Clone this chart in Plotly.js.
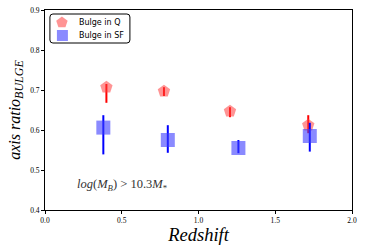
<!DOCTYPE html>
<html><head><meta charset="utf-8">
<script src="https://cdn.plot.ly/plotly-3.0.1.min.js"></script>
<style>body{margin:0;padding:0;background:#fff}#c{width:365px;height:252px}</style>
</head><body><div id="c"></div>
<script>
const qX = [0.40, 0.775, 1.205, 1.715];
const qY = [0.707, 0.697, 0.647, 0.612];
const qErrPlus = [0.008, 0.010, 0.010, 0.025];
const qErrMinus = [0.039, 0.012, 0.015, 0.020];
const sfX = [0.38, 0.80, 1.26, 1.725];
const sfY = [0.606, 0.575, 0.555, 0.585];
const sfErrPlus = [0.031, 0.037, 0.020, 0.033];
const sfErrMinus = [0.067, 0.032, 0.013, 0.039];
const xTicks = [0.0, 0.5, 1.0, 1.5, 2.0];
const yTicks = [0.4, 0.5, 0.6, 0.7, 0.8, 0.9];
const seriesNames = ['Bulge in Q', 'Bulge in SF'];

const serif = "Liberation Serif, DejaVu Serif, serif";
const qFill = 'rgba(255,60,60,0.55)';
const sfFill = 'rgba(60,60,255,0.6)';
const traces = [
  {x: qX, y: qY, type: 'scatter', mode: 'markers', name: seriesNames[0],
   marker: {symbol: 'pentagon', size: 13, color: qFill, line: {width: 0}},
   error_y: {type: 'data', symmetric: false, array: qErrPlus, arrayminus: qErrMinus, color: '#ff0000', thickness: 2, width: 0}},
  {x: sfX, y: sfY, type: 'scatter', mode: 'markers', name: seriesNames[1],
   marker: {symbol: 'square', size: 14, color: sfFill, line: {width: 0}},
   error_y: {type: 'data', symmetric: false, array: sfErrPlus, arrayminus: sfErrMinus, color: '#0000ff', thickness: 2, width: 0}}
];

// custom compact legend (pixel-sized shapes anchored in paper coords)
const lgX = 0.016, lgY = 0.98;
function pent(cx, cy, r) {
  let p = '';
  for (let i = 0; i < 5; i++) {
    const a = Math.PI / 2 + i * 2 * Math.PI / 5;
    p += (i ? ' L ' : 'M ') + (cx + r * Math.cos(a)).toFixed(2) + ',' + (cy + r * Math.sin(a)).toFixed(2);
  }
  return p + ' Z';
}
const shapes = [
  {type: 'path', xref: 'paper', yref: 'paper', xsizemode: 'pixel', ysizemode: 'pixel', xanchor: lgX, yanchor: lgY,
   path: 'M 3,0 L 77,0 Q 80,0 80,-3 L 80,-26 Q 80,-29 77,-29 L 3,-29 Q 0,-29 0,-26 L 0,-3 Q 0,0 3,0 Z',
   line: {color: '#000', width: 1}, fillcolor: '#fff'},
  {type: 'path', xref: 'paper', yref: 'paper', xsizemode: 'pixel', ysizemode: 'pixel', xanchor: lgX, yanchor: lgY,
   path: pent(12, -8.5, 6), line: {width: 0}, fillcolor: qFill},
  {type: 'path', xref: 'paper', yref: 'paper', xsizemode: 'pixel', ysizemode: 'pixel', xanchor: lgX, yanchor: lgY,
   path: 'M 7,-16 L 18,-16 L 18,-27 L 7,-27 Z', line: {width: 0}, fillcolor: sfFill}
];

const layout = {
  width: 365, height: 252,
  margin: {l: 45, r: 13, t: 10, b: 42},
  paper_bgcolor: '#fff', plot_bgcolor: '#fff',
  showlegend: false,
  shapes: shapes,
  xaxis: {range: [0, 2], tickvals: xTicks, ticktext: xTicks.map(v => v.toFixed(1)),
          showgrid: false, zeroline: false, showline: true, mirror: true, linecolor: '#000', linewidth: 1,
          ticks: 'outside', ticklen: 3, tickcolor: '#000', tickfont: {family: serif, size: 7.5, color: '#000'},
          title: {text: '<i>Redshift</i>', font: {family: serif, size: 18.5, color: '#000'}, standoff: 3}},
  yaxis: {range: [0.4, 0.9], tickvals: yTicks, ticktext: yTicks.map(v => v.toFixed(1)),
          showgrid: false, zeroline: false, showline: true, mirror: true, linecolor: '#000', linewidth: 1,
          ticks: 'outside', ticklen: 3, tickcolor: '#000', tickfont: {family: serif, size: 7.5, color: '#000'},
          title: {text: '<i>axis ratio</i><sub><i><span style="font-size:12px">BULGE</span></i></sub>', font: {family: serif, size: 16, color: '#000'}, standoff: 5}},
  annotations: [
    {x: 0.195, y: 0.4625, xref: 'x', yref: 'y', xanchor: 'left', yanchor: 'middle', showarrow: false,
     text: '<i>log</i>(<i>M<sub>B</sub></i>) > 10.3<i>M</i><sub>*</sub>',
     font: {family: serif, size: 12.5, color: '#333'}},
    {x: lgX, y: lgY, xref: 'paper', yref: 'paper', xanchor: 'left', yanchor: 'middle', xshift: 27, yshift: -8.5,
     showarrow: false, text: seriesNames[0], font: {family: 'DejaVu Sans, sans-serif', size: 8, color: '#000'}},
    {x: lgX, y: lgY, xref: 'paper', yref: 'paper', xanchor: 'left', yanchor: 'middle', xshift: 27, yshift: -21.5,
     showarrow: false, text: seriesNames[1], font: {family: 'DejaVu Sans, sans-serif', size: 8, color: '#000'}}
  ]
};
Plotly.newPlot('c', traces, layout, {displayModeBar: false, staticPlot: true});
</script></body></html>
